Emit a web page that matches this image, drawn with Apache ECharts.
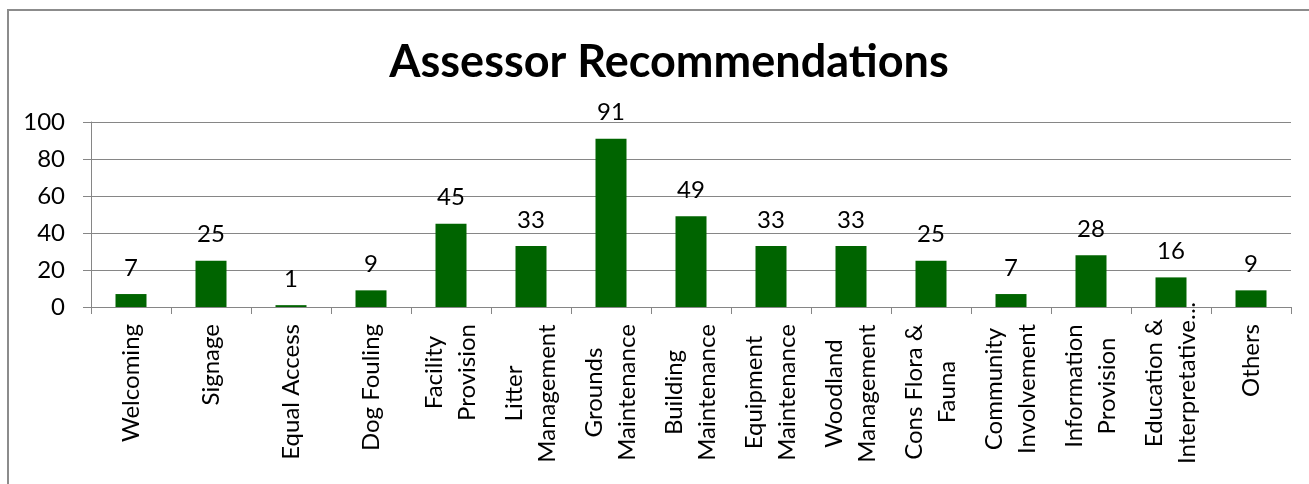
<!DOCTYPE html>
<html>
<head>
<meta charset="utf-8">
<title>Assessor Recommendations</title>
<script src="https://cdn.jsdelivr.net/npm/echarts@6/dist/echarts.min.js"></script>
<style>
  html, body { margin: 0; padding: 0; background: #ffffff; overflow: hidden; }
  #wrap { position: relative; width: 1309px; height: 484px; overflow: hidden; }
  #chart { position: absolute; left: 0; top: 0; width: 1309px; height: 484px; }
  #frame {
    position: absolute; left: 7px; top: 9px; width: 1400px; height: 600px;
    border: 2px solid #8c8c8c; pointer-events: none; box-sizing: border-box;
  }
</style>
</head>
<body>
<div id="wrap">
  <div id="chart"></div>
  <div id="frame"></div>
</div>
<script>
// Recommendation categories (line breaks as shown under the axis)
const categories = [
  'Welcoming',
  'Signage',
  'Equal Access',
  'Dog Fouling',
  'Facility\nProvision',
  'Litter\nManagement',
  'Grounds\nMaintenance',
  'Building\nMaintenance',
  'Equipment\nMaintenance',
  'Woodland\nManagement',
  'Cons Flora &\nFauna',
  'Community\nInvolvement',
  'Information\nProvision',
  'Education &\nInterpretative…',
  'Others'
];

// Number of recommendations per category
const counts = [7, 25, 1, 9, 45, 33, 91, 49, 33, 33, 25, 7, 28, 16, 9];

// Value axis ticks
const yTicks = [0, 20, 40, 60, 80, 100];

const FONT = 'Lato';
const LABEL_SIZE = 24;
const GRAY = '#868686';

// Two-line labels: both lines share the width of the longer one and are centred in it
const measureCtx = document.createElement('canvas').getContext('2d');
measureCtx.font = LABEL_SIZE + 'px ' + FONT;
const rich = {};
categories.forEach(function (name, i) {
  const lines = name.split('\n');
  if (lines.length > 1) {
    const w = Math.ceil(Math.max.apply(null, lines.map(function (l) { return measureCtx.measureText(l).width; })));
    rich['c' + i] = { width: w, align: 'center', fontSize: LABEL_SIZE, fontFamily: FONT, color: '#000', lineHeight: 33 };
  }
});

const xData = categories.map(function (name, i) {
  if (name.indexOf('Interpretative') >= 0) {
    return { value: name, textStyle: { padding: [0, -22, 0, 0] } };
  }
  return name;
});

const chart = echarts.init(document.getElementById('chart'), null, { renderer: 'canvas' });

chart.setOption({
  animation: false,
  backgroundColor: '#ffffff',
  title: {
    text: 'Assessor Recommendations',
    left: 664,
    textAlign: 'center',
    top: 35,
    textStyle: { fontFamily: FONT, fontWeight: 'bold', fontSize: 45, color: '#000' }
  },
  grid: { left: 91, right: 18, top: 122, bottom: 177, containLabel: false },
  xAxis: {
    type: 'category',
    data: xData,
    boundaryGap: true,
    axisLine: { show: true, lineStyle: { color: GRAY, width: 1 } },
    axisTick: { show: true, alignWithLabel: false, interval: 0, length: 7, lineStyle: { color: GRAY } },
    axisLabel: {
      interval: 0,
      rotate: 90,
      margin: 17,
      fontFamily: FONT,
      fontSize: LABEL_SIZE,
      color: '#000',
      lineHeight: 33,
      rich: rich,
      formatter: function (value, index) {
        const lines = value.split('\n');
        if (lines.length > 1) {
          return lines.map(function (l) { return '{c' + index + '|' + l + '}'; }).join('\n');
        }
        return value;
      }
    }
  },
  yAxis: {
    type: 'value',
    min: yTicks[0],
    max: yTicks[yTicks.length - 1],
    interval: yTicks[1] - yTicks[0],
    axisLine: { show: true, lineStyle: { color: GRAY, width: 1 } },
    axisTick: { show: true, length: 8, lineStyle: { color: GRAY } },
    splitLine: { show: true, lineStyle: { color: GRAY, width: 1 } },
    axisLabel: { margin: 26, fontFamily: FONT, fontSize: LABEL_SIZE, color: '#000' }
  },
  series: [{
    type: 'bar',
    data: counts,
    barWidth: 31,
    itemStyle: { color: '#006400' },
    label: {
      show: true,
      position: 'top',
      distance: 14,
      fontFamily: FONT,
      fontSize: LABEL_SIZE,
      color: '#000'
    }
  }]
});
</script>
</body>
</html>
